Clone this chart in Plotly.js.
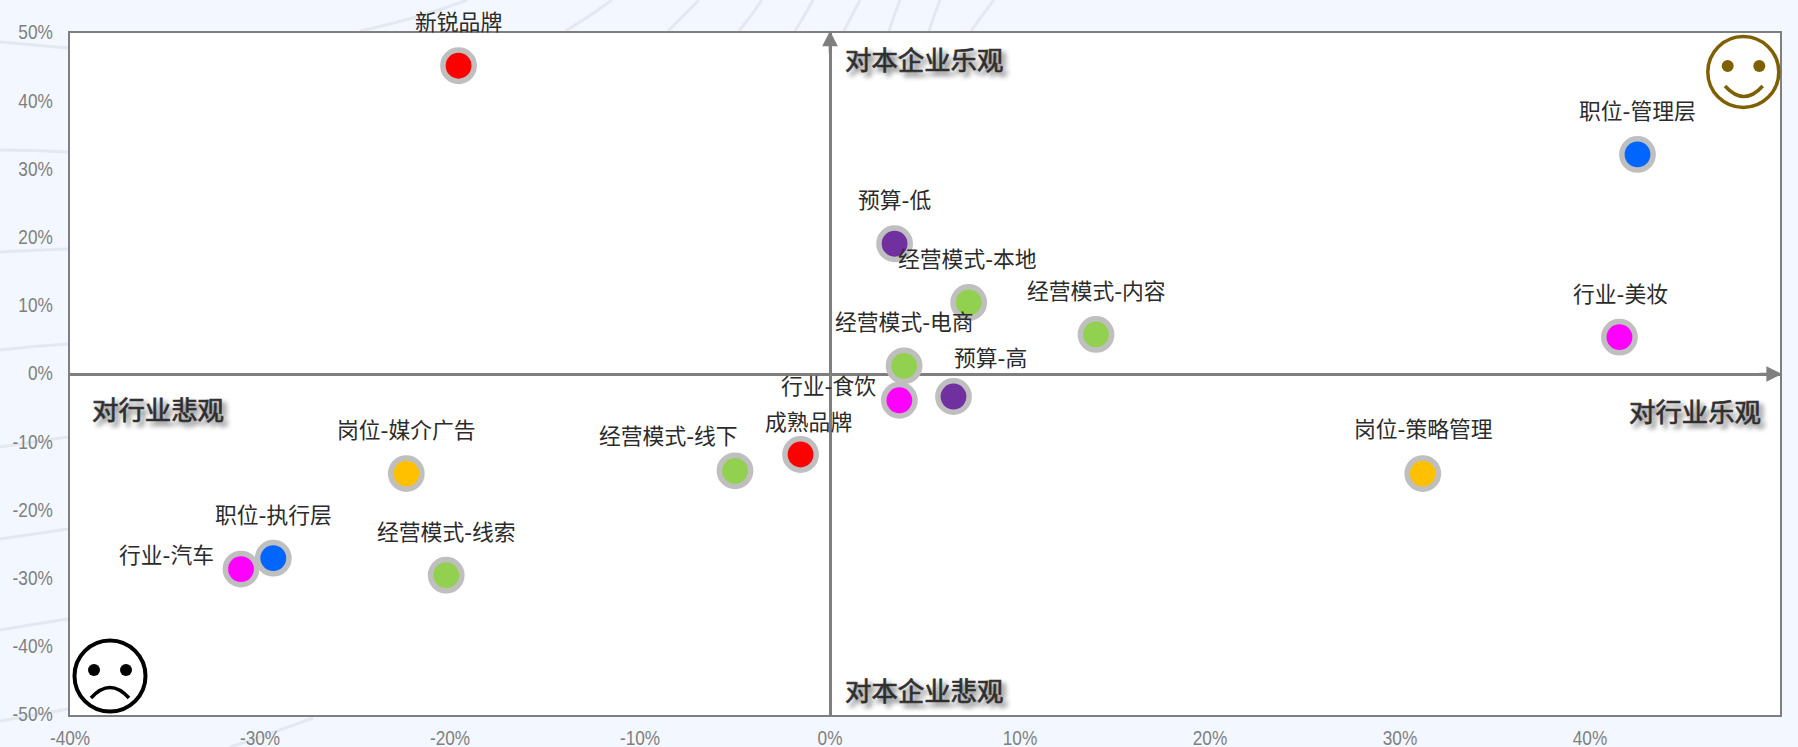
<!DOCTYPE html>
<html>
<head>
<meta charset="utf-8">
<script src="https://cdn.plot.ly/plotly-3.0.1.min.js"></script>
<style>html,body{margin:0;padding:0;background:#f3f7ff;overflow:hidden}</style>
</head>
<body>
<div id="chart" style="width:1798px;height:747px"></div>
<script>
// Data
const redNames = ['新锐品牌', '成熟品牌'];
const redX = [-19.55, -1.55];
const redY = [45.2, -11.8];

const blueNames = ['职位-管理层', '职位-执行层'];
const blueX = [42.5, -29.3];
const blueY = [32.2, -27.0];

const purpleNames = ['预算-低', '预算-高'];
const purpleX = [3.4, 6.5];
const purpleY = [19.1, -3.3];

const magentaNames = ['行业-美妆', '行业-食饮', '行业-汽车'];
const magentaX = [41.55, 3.65, -31.0];
const magentaY = [5.4, -3.85, -28.6];

const orangeNames = ['岗位-媒介广告', '岗位-策略管理'];
const orangeX = [-22.3, 31.2];
const orangeY = [-14.6, -14.6];

const greenNames = ['经营模式-本地', '经营模式-内容', '经营模式-电商', '经营模式-线下', '经营模式-线索'];
const greenX = [7.3, 14.0, 3.9, -5.0, -20.2];
const greenY = [10.5, 5.8, 1.2, -14.2, -29.5];

const xTickVals = [-40, -30, -20, -10, 0, 10, 20, 30, 40, 50];
const xTickText = ['-40%', '-30%', '-20%', '-10%', '0%', '10%', '20%', '30%', '40%', '50%'];
const yTickVals = [-50, -40, -30, -20, -10, 0, 10, 20, 30, 40, 50];
const yTickText = ['-50%', '-40%', '-30%', '-20%', '-10%', '0%', '10%', '20%', '30%', '40%', '50%'];

const quadrantNames = ['对本企业乐观', '对本企业悲观', '对行业悲观', '对行业乐观'];
const quadrantX = [4.97, 4.97, -35.35, 45.5];
const quadrantY = [46.2, -46.2, -5.1, -5.3];

// Layout geometry and styles
const L = 70, R = 1780, T = 33, B = 715;
const px = x => (x - L) / (R - L);
const py = y => (B - y) / (B - T);
const P = (x, y) => px(x).toFixed(5) + ',' + py(y).toFixed(5);

const groups = [
  [redNames, redX, redY, '#ff0000'],
  [purpleNames, purpleX, purpleY, '#7030a0'],
  [blueNames, blueX, blueY, '#0066ff'],
  [orangeNames, orangeX, orangeY, '#ffc000'],
  [magentaNames, magentaX, magentaY, '#ff00ff'],
  [greenNames, greenX, greenY, '#92d050']
];
const traces = groups.map(g => ({
  type: 'scatter', mode: 'markers', x: g[1], y: g[2], text: g[0], hoverinfo: 'text',
  marker: {size: 31.3, color: g[3], line: {color: '#bfbfbf', width: 5.5}}, cliponaxis: false
}));

// Pixel offsets of each label from its point
const labelShift = {
  '新锐品牌': [0, 42], '成熟品牌': [8, 31],
  '职位-管理层': [0, 42], '职位-执行层': [0, 42],
  '预算-低': [0, 42], '预算-高': [37, 37],
  '行业-美妆': [1, 42], '行业-食饮': [-71, 13], '行业-汽车': [-75, 13],
  '岗位-媒介广告': [0, 42], '岗位-策略管理': [1, 43],
  '经营模式-本地': [-1, 42], '经营模式-内容': [0, 42], '经营模式-电商': [0, 42],
  '经营模式-线下': [-67, 33], '经营模式-线索': [0, 42]
};
const annotations = [];
groups.forEach(g => g[0].forEach((name, i) => annotations.push({
  x: g[1][i], y: g[2][i], xref: 'x', yref: 'y', text: name, showarrow: false,
  xanchor: 'center', yanchor: 'middle',
  xshift: labelShift[name][0], yshift: labelShift[name][1] + 1,
  font: {family: '"DejaVu Sans", "Noto Sans CJK SC", sans-serif', size: 21.8, color: '#2b2b2b'}
})));
quadrantNames.forEach((name, i) => annotations.push({
  x: quadrantX[i], y: quadrantY[i], xref: 'x', yref: 'y', text: name,
  showarrow: false, xanchor: 'center', yanchor: 'middle',
  font: {family: '"Noto Sans CJK SC", sans-serif', size: 26.4, color: '#333333',
         shadow: '4px 4px 5px rgba(0,0,0,0.45)'}
}));
// Arrow heads on the two centre axes
annotations.push({x: 50, y: 0, xref: 'x', yref: 'y', ax: -24, ay: 0, axref: 'pixel', ayref: 'pixel',
  xshift: 2, showarrow: true, arrowhead: 2, arrowsize: 1.2, arrowwidth: 2.6, arrowcolor: '#7f7f7f', text: ''});
annotations.push({x: 0, y: 50, xref: 'x', yref: 'y', ax: 0, ay: 24, axref: 'pixel', ayref: 'pixel',
  yshift: 2.3, showarrow: true, arrowhead: 2, arrowsize: 1.2, arrowwidth: 2.6, arrowcolor: '#7f7f7f', text: ''});

// Faint background arcs, outside the plot area
const arcs = [
  [[0,42],[35,45],[68,48]], [[0,150],[35,150],[68,152]], [[0,252],[35,250],[68,249]],
  [[0,350],[35,346],[68,344]], [[0,447],[35,442],[68,437]], [[0,539],[35,534],[68,529]],
  [[0,630],[35,624],[68,619]], [[0,721],[35,715],[68,709]],
  [[230,747],[270,734],[313,718]],
  [[360,31],[420,18],[467,0]], [[566,31],[590,16],[612,0]], [[668,31],[684,15],[699,0]],
  [[739,31],[752,15],[762,0]], [[795,31],[805,15],[813,0]], [[844,31],[852,15],[860,0]],
  [[889,31],[894,15],[900,0]], [[929,31],[934,15],[940,0]], [[971,31],[982,15],[994,0]]
];
const shapes = arcs.map(a => ({
  type: 'path', xref: 'paper', yref: 'paper', layer: 'below',
  path: 'M' + P(a[0][0], a[0][1]) + ' Q' + P(a[1][0], a[1][1]) + ' ' + P(a[2][0], a[2][1]),
  line: {color: '#e4e8f0', width: 3}
}));

function circle(cx, cy, r, fill, stroke, w) {
  return {type: 'circle', xref: 'paper', yref: 'paper', layer: 'above',
    x0: px(cx - r), x1: px(cx + r), y0: py(cy + r), y1: py(cy - r),
    fillcolor: fill, line: {color: stroke, width: w}};
}
function curve(x0, y0, cx, cy, x1, y1, stroke, w) {
  return {type: 'path', xref: 'paper', yref: 'paper', layer: 'above',
    path: 'M' + P(x0, y0) + ' Q' + P(cx, cy) + ' ' + P(x1, y1),
    line: {color: stroke, width: w}};
}
// Smiling face
const happy = '#7f6000';
shapes.push(circle(1743.3, 72, 35.5, 'rgba(0,0,0,0)', happy, 3.5));
shapes.push(circle(1727.7, 66, 6, happy, happy, 0));
shapes.push(circle(1759.3, 66, 6, happy, happy, 0));
shapes.push(curve(1725, 86, 1744, 107, 1762.7, 86, happy, 3.5));
// Sad face
shapes.push(circle(110, 676, 35.5, 'rgba(0,0,0,0)', '#000000', 4));
shapes.push(circle(94, 670, 6, '#000000', '#000000', 0));
shapes.push(circle(126, 670, 6, '#000000', '#000000', 0));
shapes.push(curve(91, 698, 110, 677, 129, 698, '#000000', 3.5));

const tickFont = {family: '"Liberation Sans", sans-serif', size: 21, color: '#7f7f7f'};
const layout = {
  width: 1798, height: 747,
  margin: {l: L, r: 1798 - R, t: T, b: 747 - B, pad: 0},
  paper_bgcolor: '#f3f7ff', plot_bgcolor: '#ffffff',
  showlegend: false,
  xaxis: {
    range: [-40, 50], tickmode: 'array', tickvals: xTickVals, ticktext: xTickText,
    showgrid: false, zeroline: true, zerolinecolor: '#7f7f7f', zerolinewidth: 3,
    showline: true, mirror: true, linecolor: '#7f7f7f', linewidth: 2,
    ticks: '', ticklabelstandoff: 3, tickfont: tickFont
  },
  yaxis: {
    range: [-50, 50], tickmode: 'array', tickvals: yTickVals, ticktext: yTickText,
    showgrid: false, zeroline: true, zerolinecolor: '#7f7f7f', zerolinewidth: 3,
    showline: true, mirror: true, linecolor: '#7f7f7f', linewidth: 2,
    ticks: '', ticklabelstandoff: 11, tickfont: tickFont
  },
  annotations: annotations,
  shapes: shapes
};
function finishText() {
  document.querySelectorAll('.xtick text, .ytick text').forEach(t => {
    t.removeAttribute('textLength');
    const w = t.getComputedTextLength();
    t.setAttribute('textLength', (w * 0.82).toFixed(2));
    t.setAttribute('lengthAdjust', 'spacingAndGlyphs');
  });
  document.querySelectorAll('.ytick text').forEach(t => t.setAttribute('dy', '-1'));
  // Slightly heavier strokes for the quadrant captions
  document.querySelectorAll('.annotation-text').forEach(t => {
    if (quadrantNames.includes(t.textContent)) {
      t.style.stroke = '#333333';
      t.style.strokeWidth = '0.7px';
    }
  });
}
Plotly.newPlot('chart', traces, layout, {displayModeBar: false, responsive: false}).then(finishText);
</script>
</body>
</html>
